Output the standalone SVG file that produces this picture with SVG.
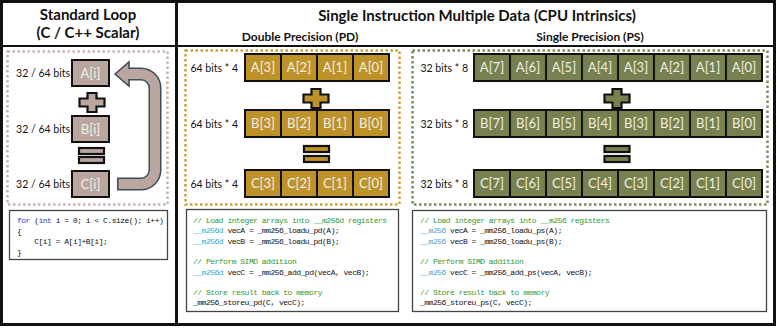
<svg xmlns="http://www.w3.org/2000/svg" width="780" height="328" viewBox="0 0 780 328">
<style>
.title{font-family:Lato,"Open Sans","Liberation Sans",sans-serif;font-weight:bold;font-size:15px;fill:#111;text-anchor:middle}
.sub{font-family:Lato,"Open Sans","Liberation Sans",sans-serif;font-weight:bold;font-size:12px;fill:#111;text-anchor:middle}
.lbl{font-family:Lato,"Open Sans","Liberation Sans",sans-serif;font-size:10.5px;fill:#111;text-anchor:end}
.cell{font-family:Lato,"Open Sans","Liberation Sans",sans-serif;font-size:13px;fill:#f3efe6;text-anchor:middle}
.code{font-family:"Liberation Mono","DejaVu Sans Mono",monospace;font-size:8px;letter-spacing:-0.5px;fill:#111}
.kw{fill:#2346d8}
.cm{fill:#2f9a2f}
.ty{fill:#3aa6d6}
.tb{fill:#b9a69f;stroke:#111;stroke-width:2}
.gd{fill:#bd9229;stroke:#111;stroke-width:2}
.ol{fill:#77804f;stroke:#111;stroke-width:2}
.sym{stroke:#111;stroke-width:2.2;stroke-linejoin:miter}
.cbox{fill:#fff;stroke:#444;stroke-width:1.3}
</style>
<rect x="0" y="0" width="780" height="328" fill="#fff"/>
<g id="frame">
<rect x="1.5" y="1.5" width="773" height="323" fill="none" stroke="#111" stroke-width="3"/>
<line x1="176.5" y1="1.5" x2="176.5" y2="324.5" stroke="#111" stroke-width="3"/>
<line x1="1.5" y1="46" x2="774.5" y2="46" stroke="#111" stroke-width="2"/>
<text class="title" x="88" y="20">Standard Loop</text>
<text class="title" x="88" y="38">(C / C++ Scalar)</text>
<text class="title" x="477" y="21">Single Instruction Multiple Data (CPU Intrinsics)</text>
<text class="sub" x="300" y="41">Double Precision (PD)</text>
<text class="sub" x="590" y="41">Single Precision (PS)</text>
</g>
<g id="scalar-group">
<rect x="7.5" y="51.5" width="160" height="153" fill="none" stroke="#c6b4ae" stroke-width="2.5" stroke-dasharray="2.5,2.5"/>
</g>
<g id="pd-group">
<rect x="185.5" y="50.5" width="214" height="154" fill="none" stroke="#c9a13c" stroke-width="2.5" stroke-dasharray="2.5,2.5"/>
</g>
<g id="ps-group">
<rect x="412.5" y="50.5" width="355" height="154" fill="none" stroke="#7f8b5c" stroke-width="2.5" stroke-dasharray="2.5,2.5"/>
</g>
<g id="scalar-A">
<text class="lbl" x="70" y="77">32 / 64 bits</text>
<rect class="tb" x="72" y="60" width="37" height="26"/>
<text class="cell" x="90.5" y="78">A[i]</text>
</g>
<g id="scalar-B">
<text class="lbl" x="70" y="133">32 / 64 bits</text>
<rect class="tb" x="72" y="116" width="37" height="26"/>
<text class="cell" x="90.5" y="134">B[i]</text>
</g>
<g id="scalar-C">
<text class="lbl" x="70" y="188">32 / 64 bits</text>
<rect class="tb" x="72" y="171" width="37" height="26"/>
<text class="cell" x="90.5" y="189">C[i]</text>
</g>
<g id="scalar-ops">
<path class="sym" fill="#b9a69f" d="M87.5,93 h9 v5.5 h8 v8 h-8 v5.5 h-9 v-5.5 h-8 v-8 h8 z"/>
<rect class="sym" fill="#b9a69f" x="79" y="148" width="25" height="6"/>
<rect class="sym" fill="#b9a69f" x="79" y="157" width="25" height="6"/>
</g>
<g id="connectors">
<path d="M117,184 H141 A14,14 0 0 0 155,170 V88 A14,14 0 0 0 141,74 H128" fill="none" stroke="#3e4d59" stroke-width="13"/>
<polygon points="115,74 129,62 129,86" fill="#b9a69f" stroke="#3e4d59" stroke-width="1.6" stroke-linejoin="miter"/>
<path d="M118.6,184 H141 A14,14 0 0 0 155,170 V88 A14,14 0 0 0 141,74 H127" fill="none" stroke="#b9a69f" stroke-width="10"/>
</g>
<g id="pd-A">
<text class="lbl" x="238" y="72">64 bits * 4</text>
<rect class="gd" x="245" y="54" width="36" height="27"/><rect class="gd" x="281" y="54" width="36" height="27"/><rect class="gd" x="317" y="54" width="36" height="27"/><rect class="gd" x="353" y="54" width="36" height="27"/>
<text class="cell" x="263" y="72">A[3]</text><text class="cell" x="299" y="72">A[2]</text><text class="cell" x="335" y="72">A[1]</text><text class="cell" x="371" y="72">A[0]</text>
</g>
<g id="pd-B">
<text class="lbl" x="238" y="128">64 bits * 4</text>
<rect class="gd" x="245" y="110" width="36" height="27"/><rect class="gd" x="281" y="110" width="36" height="27"/><rect class="gd" x="317" y="110" width="36" height="27"/><rect class="gd" x="353" y="110" width="36" height="27"/>
<text class="cell" x="263" y="128">B[3]</text><text class="cell" x="299" y="128">B[2]</text><text class="cell" x="335" y="128">B[1]</text><text class="cell" x="371" y="128">B[0]</text>
</g>
<g id="pd-C">
<text class="lbl" x="238" y="188">64 bits * 4</text>
<rect class="gd" x="245" y="170" width="36" height="27"/><rect class="gd" x="281" y="170" width="36" height="27"/><rect class="gd" x="317" y="170" width="36" height="27"/><rect class="gd" x="353" y="170" width="36" height="27"/>
<text class="cell" x="263" y="188">C[3]</text><text class="cell" x="299" y="188">C[2]</text><text class="cell" x="335" y="188">C[1]</text><text class="cell" x="371" y="188">C[0]</text>
</g>
<g id="pd-ops">
<path class="sym" fill="#bd9229" d="M311.5,89 h9 v5.5 h8 v8 h-8 v5.5 h-9 v-5.5 h-8 v-8 h8 z"/>
<rect class="sym" fill="#bd9229" x="304" y="146" width="25" height="6"/>
<rect class="sym" fill="#bd9229" x="304" y="156" width="25" height="6"/>
</g>
<g id="ps-A">
<text class="lbl" x="468" y="72">32 bits * 8</text>
<rect class="ol" x="474" y="54" width="36" height="27"/><rect class="ol" x="510" y="54" width="36" height="27"/><rect class="ol" x="546" y="54" width="36" height="27"/><rect class="ol" x="582" y="54" width="36" height="27"/><rect class="ol" x="618" y="54" width="36" height="27"/><rect class="ol" x="654" y="54" width="36" height="27"/><rect class="ol" x="690" y="54" width="36" height="27"/><rect class="ol" x="726" y="54" width="36" height="27"/>
<text class="cell" x="492" y="72">A[7]</text><text class="cell" x="528" y="72">A[6]</text><text class="cell" x="564" y="72">A[5]</text><text class="cell" x="600" y="72">A[4]</text><text class="cell" x="636" y="72">A[3]</text><text class="cell" x="672" y="72">A[2]</text><text class="cell" x="708" y="72">A[1]</text><text class="cell" x="744" y="72">A[0]</text>
</g>
<g id="ps-B">
<text class="lbl" x="468" y="128">32 bits * 8</text>
<rect class="ol" x="474" y="110" width="36" height="27"/><rect class="ol" x="510" y="110" width="36" height="27"/><rect class="ol" x="546" y="110" width="36" height="27"/><rect class="ol" x="582" y="110" width="36" height="27"/><rect class="ol" x="618" y="110" width="36" height="27"/><rect class="ol" x="654" y="110" width="36" height="27"/><rect class="ol" x="690" y="110" width="36" height="27"/><rect class="ol" x="726" y="110" width="36" height="27"/>
<text class="cell" x="492" y="128">B[7]</text><text class="cell" x="528" y="128">B[6]</text><text class="cell" x="564" y="128">B[5]</text><text class="cell" x="600" y="128">B[4]</text><text class="cell" x="636" y="128">B[3]</text><text class="cell" x="672" y="128">B[2]</text><text class="cell" x="708" y="128">B[1]</text><text class="cell" x="744" y="128">B[0]</text>
</g>
<g id="ps-C">
<text class="lbl" x="468" y="188">32 bits * 8</text>
<rect class="ol" x="474" y="170" width="36" height="27"/><rect class="ol" x="510" y="170" width="36" height="27"/><rect class="ol" x="546" y="170" width="36" height="27"/><rect class="ol" x="582" y="170" width="36" height="27"/><rect class="ol" x="618" y="170" width="36" height="27"/><rect class="ol" x="654" y="170" width="36" height="27"/><rect class="ol" x="690" y="170" width="36" height="27"/><rect class="ol" x="726" y="170" width="36" height="27"/>
<text class="cell" x="492" y="188">C[7]</text><text class="cell" x="528" y="188">C[6]</text><text class="cell" x="564" y="188">C[5]</text><text class="cell" x="600" y="188">C[4]</text><text class="cell" x="636" y="188">C[3]</text><text class="cell" x="672" y="188">C[2]</text><text class="cell" x="708" y="188">C[1]</text><text class="cell" x="744" y="188">C[0]</text>
</g>
<g id="ps-ops">
<path class="sym" fill="#77804f" d="M612.5,89 h9 v5.5 h8 v8 h-8 v5.5 h-9 v-5.5 h-8 v-8 h8 z"/>
<rect class="sym" fill="#77804f" x="604.5" y="146" width="25" height="6"/>
<rect class="sym" fill="#77804f" x="604.5" y="156" width="25" height="6"/>
</g>
<g id="scalar-code">
<rect class="cbox" x="9.5" y="210.5" width="158" height="49"/>
<text class="code" x="17" y="223"><tspan class="kw">for</tspan> (<tspan class="kw">int</tspan> i = 0; i &lt; C.size(); i++)</text>
<text class="code" x="17" y="233.5">{</text>
<text class="code" x="17" y="244" xml:space="preserve">    C[i] = A[i]+B[i];</text>
<text class="code" x="17" y="254.5">}</text>
</g>
<g id="pd-code">
<rect class="cbox" x="186.5" y="209.5" width="212" height="102"/>
<text class="code cm" x="193" y="223">// Load integer arrays into __m256d registers</text>
<text class="code" x="193" y="233.3"><tspan class="ty">__m256d</tspan> vecA = _mm256_loadu_pd(A);</text>
<text class="code" x="193" y="243.6"><tspan class="ty">__m256d</tspan> vecB = _mm256_loadu_pd(B);</text>
<text class="code cm" x="193" y="264.2">// Perform SIMD addition</text>
<text class="code" x="193" y="274.5"><tspan class="ty">__m256d</tspan> vecC = _mm256_add_pd(vecA, vecB);</text>
<text class="code cm" x="193" y="295.1">// Store result back to memory</text>
<text class="code" x="193" y="305.4">_mm256_storeu_pd(C, vecC);</text>
</g>
<g id="ps-code">
<rect class="cbox" x="412.5" y="210.5" width="354" height="101"/>
<text class="code cm" x="420" y="223">// Load integer arrays into __m256 registers</text>
<text class="code" x="420" y="233.3"><tspan class="ty">__m256</tspan> vecA = _mm256_loadu_ps(A);</text>
<text class="code" x="420" y="243.6"><tspan class="ty">__m256</tspan> vecB = _mm256_loadu_ps(B);</text>
<text class="code cm" x="420" y="264.2">// Perform SIMD addition</text>
<text class="code" x="420" y="274.5"><tspan class="ty">__m256</tspan> vecC = _mm256_add_ps(vecA, vecB);</text>
<text class="code cm" x="420" y="295.1">// Store result back to memory</text>
<text class="code" x="420" y="305.4">_mm256_storeu_ps(C, vecC);</text>
</g>
</svg>
